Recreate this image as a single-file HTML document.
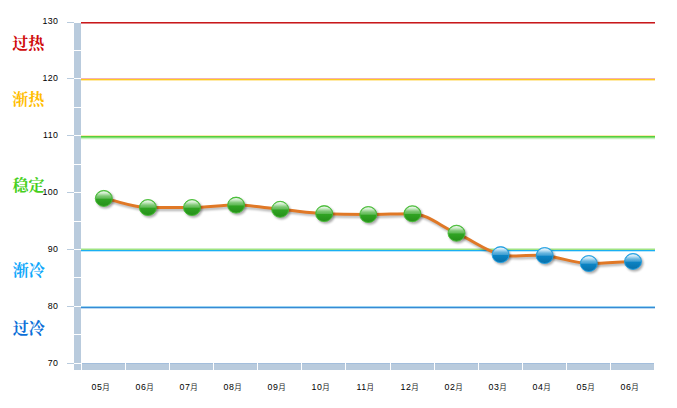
<!DOCTYPE html>
<html><head><meta charset="utf-8"><title>chart</title>
<style>html,body{margin:0;padding:0;background:#fff;overflow:hidden}body{width:677px;height:408px;position:relative;font-family:"Liberation Sans",sans-serif}</style></head>
<body>
<svg width="677" height="408" viewBox="0 0 677 408" style="display:block;position:absolute;left:0;top:0">
<defs>
<linearGradient id="gg" x1="0" y1="0" x2="0" y2="1">
 <stop offset="0" stop-color="#3db32d"/><stop offset="0.5" stop-color="#31a524"/><stop offset="1" stop-color="#258f19"/>
</linearGradient>
<linearGradient id="bg" x1="0" y1="0" x2="0" y2="1">
 <stop offset="0" stop-color="#1b9ade"/><stop offset="0.5" stop-color="#0c85c6"/><stop offset="1" stop-color="#0870a9"/>
</linearGradient>
<linearGradient id="gl" x1="0" y1="0" x2="0" y2="1">
 <stop offset="0" stop-color="#fff" stop-opacity="0.95"/><stop offset="0.3" stop-color="#fff" stop-opacity="0.72"/><stop offset="0.65" stop-color="#fff" stop-opacity="0.36"/><stop offset="1" stop-color="#fff" stop-opacity="0.2"/>
</linearGradient>
<filter id="sh" x="-30%" y="-30%" width="170%" height="170%">
 <feGaussianBlur stdDeviation="0.9"/>
</filter>
<filter id="shl" x="-5%" y="-30%" width="110%" height="180%">
 <feGaussianBlur stdDeviation="0.8"/>
</filter>
</defs>
<rect width="677" height="408" fill="#fff"/>
<rect x="81.0" y="22" width="574.0" height="1" fill="#c8181b" opacity="1.0"/>
<rect x="81.0" y="23" width="574.0" height="1" fill="#c8181b" opacity="0.55"/>
<rect x="81.0" y="78" width="574.0" height="1" fill="#f1b3b9" opacity="1.0"/>
<rect x="81.0" y="79" width="574.0" height="1" fill="#ffc81c" opacity="1.0"/>
<rect x="81.0" y="80" width="574.0" height="1" fill="#ffc81c" opacity="0.38"/>
<rect x="81.0" y="135" width="574.0" height="1" fill="#fde9b0" opacity="1.0"/>
<rect x="81.0" y="136" width="574.0" height="1" fill="#55d03c" opacity="1.0"/>
<rect x="81.0" y="137" width="574.0" height="1" fill="#55d03c" opacity="0.72"/>
<rect x="81.0" y="138" width="574.0" height="1" fill="#55d03c" opacity="0.33"/>
<rect x="81.0" y="139" width="574.0" height="1" fill="#55d03c" opacity="0.08"/>
<rect x="81.0" y="248" width="574.0" height="1" fill="#58cf3c" opacity="0.3"/>
<rect x="81.0" y="249" width="574.0" height="1" fill="#a0e380" opacity="1.0"/>
<rect x="81.0" y="250" width="574.0" height="1" fill="#1ab0f3" opacity="1.0"/>
<rect x="81.0" y="251" width="574.0" height="1" fill="#1ab0f3" opacity="0.3"/>
<rect x="81.0" y="306" width="574.0" height="1" fill="#98d3f1" opacity="1.0"/>
<rect x="81.0" y="307" width="574.0" height="1" fill="#368bd5" opacity="1.0"/>
<rect x="81.0" y="308" width="574.0" height="1" fill="#368bd5" opacity="0.33"/>
<rect x="74" y="23" width="7" height="347" fill="#B9CBDD"/>
<rect x="74" y="22" width="7" height="1" fill="#fff"/>
<rect x="67" y="22" width="7" height="1" fill="#B9CBDD"/>
<rect x="74" y="50" width="7" height="1" fill="#fff"/>
<rect x="74" y="78" width="7" height="1" fill="#fff"/>
<rect x="67" y="78" width="7" height="1" fill="#B9CBDD"/>
<rect x="74" y="107" width="7" height="1" fill="#fff"/>
<rect x="74" y="135" width="7" height="1" fill="#fff"/>
<rect x="67" y="135" width="7" height="1" fill="#B9CBDD"/>
<rect x="74" y="164" width="7" height="1" fill="#fff"/>
<rect x="74" y="192" width="7" height="1" fill="#fff"/>
<rect x="67" y="192" width="7" height="1" fill="#B9CBDD"/>
<rect x="74" y="221" width="7" height="1" fill="#fff"/>
<rect x="74" y="249" width="7" height="1" fill="#fff"/>
<rect x="67" y="249" width="7" height="1" fill="#B9CBDD"/>
<rect x="74" y="277" width="7" height="1" fill="#fff"/>
<rect x="74" y="306" width="7" height="1" fill="#fff"/>
<rect x="67" y="306" width="7" height="1" fill="#B9CBDD"/>
<rect x="74" y="334" width="7" height="1" fill="#fff"/>
<rect x="74" y="363" width="7" height="1" fill="#fff"/>
<rect x="67" y="363" width="7" height="1" fill="#B9CBDD"/>
<rect x="82" y="363" width="572" height="7" fill="#B9CBDD"/>
<rect x="82" y="363" width="572" height="1" fill="#A3BEDC"/>
<rect x="125" y="363" width="1" height="7" fill="#fff"/>
<rect x="169" y="363" width="1" height="7" fill="#fff"/>
<rect x="213" y="363" width="1" height="7" fill="#fff"/>
<rect x="257" y="363" width="1" height="7" fill="#fff"/>
<rect x="301" y="363" width="1" height="7" fill="#fff"/>
<rect x="345" y="363" width="1" height="7" fill="#fff"/>
<rect x="390" y="363" width="1" height="7" fill="#fff"/>
<rect x="434" y="363" width="1" height="7" fill="#fff"/>
<rect x="478" y="363" width="1" height="7" fill="#fff"/>
<rect x="522" y="363" width="1" height="7" fill="#fff"/>
<rect x="566" y="363" width="1" height="7" fill="#fff"/>
<rect x="610" y="363" width="1" height="7" fill="#fff"/>
<path d="M103.80,198.40C118.50,201.13 133.20,207.50 147.90,207.50C162.60,207.50 177.30,207.50 192.00,207.50C206.70,207.50 221.40,205.10 236.10,205.10C250.80,205.10 265.50,208.02 280.20,209.30C294.87,210.57 309.53,212.82 324.20,213.60C338.90,214.38 353.60,214.50 368.30,214.50C383.00,214.50 397.70,213.70 412.40,213.70C427.10,213.70 441.80,227.06 456.50,233.20C471.20,239.33 485.90,251.25 500.60,254.60C515.30,257.94 530.00,254.16 544.70,255.50C559.40,256.83 574.10,263.50 588.80,263.50C603.53,263.50 618.27,262.03 633.00,261.40" fill="none" stroke="#000" stroke-opacity="0.3" stroke-width="2.6" transform="translate(1.2,2.1)" filter="url(#shl)"/>
<path d="M103.80,198.40C118.50,201.13 133.20,207.50 147.90,207.50C162.60,207.50 177.30,207.50 192.00,207.50C206.70,207.50 221.40,205.10 236.10,205.10C250.80,205.10 265.50,208.02 280.20,209.30C294.87,210.57 309.53,212.82 324.20,213.60C338.90,214.38 353.60,214.50 368.30,214.50C383.00,214.50 397.70,213.70 412.40,213.70C427.10,213.70 441.80,227.06 456.50,233.20C471.20,239.33 485.90,251.25 500.60,254.60C515.30,257.94 530.00,254.16 544.70,255.50C559.40,256.83 574.10,263.50 588.80,263.50C603.53,263.50 618.27,262.03 633.00,261.40" fill="none" stroke="#e07826" stroke-width="3" stroke-linejoin="round"/>
<ellipse cx="105.30" cy="200.20" rx="8.9" ry="8.4" fill="#000" opacity="0.33" filter="url(#sh)"/>
<ellipse cx="149.40" cy="209.30" rx="8.9" ry="8.4" fill="#000" opacity="0.33" filter="url(#sh)"/>
<ellipse cx="193.50" cy="209.30" rx="8.9" ry="8.4" fill="#000" opacity="0.33" filter="url(#sh)"/>
<ellipse cx="237.60" cy="206.90" rx="8.9" ry="8.4" fill="#000" opacity="0.33" filter="url(#sh)"/>
<ellipse cx="281.70" cy="211.10" rx="8.9" ry="8.4" fill="#000" opacity="0.33" filter="url(#sh)"/>
<ellipse cx="325.70" cy="215.40" rx="8.9" ry="8.4" fill="#000" opacity="0.33" filter="url(#sh)"/>
<ellipse cx="369.80" cy="216.30" rx="8.9" ry="8.4" fill="#000" opacity="0.33" filter="url(#sh)"/>
<ellipse cx="413.90" cy="215.50" rx="8.9" ry="8.4" fill="#000" opacity="0.33" filter="url(#sh)"/>
<ellipse cx="458.00" cy="235.00" rx="8.9" ry="8.4" fill="#000" opacity="0.33" filter="url(#sh)"/>
<ellipse cx="502.10" cy="256.40" rx="8.9" ry="8.4" fill="#000" opacity="0.33" filter="url(#sh)"/>
<ellipse cx="546.20" cy="257.30" rx="8.9" ry="8.4" fill="#000" opacity="0.33" filter="url(#sh)"/>
<ellipse cx="590.30" cy="265.30" rx="8.9" ry="8.4" fill="#000" opacity="0.33" filter="url(#sh)"/>
<ellipse cx="634.50" cy="263.20" rx="8.9" ry="8.4" fill="#000" opacity="0.33" filter="url(#sh)"/>
<ellipse cx="103.80" cy="198.40" rx="8.5" ry="8.0" fill="url(#gg)" stroke="#47c035" stroke-width="0.9"/>
<path d="M95.80,198.70 A8.0,7.5 0 0 1 111.80,198.70 Z" fill="url(#gl)"/>
<ellipse cx="147.90" cy="207.50" rx="8.5" ry="8.0" fill="url(#gg)" stroke="#47c035" stroke-width="0.9"/>
<path d="M139.90,207.80 A8.0,7.5 0 0 1 155.90,207.80 Z" fill="url(#gl)"/>
<ellipse cx="192.00" cy="207.50" rx="8.5" ry="8.0" fill="url(#gg)" stroke="#47c035" stroke-width="0.9"/>
<path d="M184.00,207.80 A8.0,7.5 0 0 1 200.00,207.80 Z" fill="url(#gl)"/>
<ellipse cx="236.10" cy="205.10" rx="8.5" ry="8.0" fill="url(#gg)" stroke="#47c035" stroke-width="0.9"/>
<path d="M228.10,205.40 A8.0,7.5 0 0 1 244.10,205.40 Z" fill="url(#gl)"/>
<ellipse cx="280.20" cy="209.30" rx="8.5" ry="8.0" fill="url(#gg)" stroke="#47c035" stroke-width="0.9"/>
<path d="M272.20,209.60 A8.0,7.5 0 0 1 288.20,209.60 Z" fill="url(#gl)"/>
<ellipse cx="324.20" cy="213.60" rx="8.5" ry="8.0" fill="url(#gg)" stroke="#47c035" stroke-width="0.9"/>
<path d="M316.20,213.90 A8.0,7.5 0 0 1 332.20,213.90 Z" fill="url(#gl)"/>
<ellipse cx="368.30" cy="214.50" rx="8.5" ry="8.0" fill="url(#gg)" stroke="#47c035" stroke-width="0.9"/>
<path d="M360.30,214.80 A8.0,7.5 0 0 1 376.30,214.80 Z" fill="url(#gl)"/>
<ellipse cx="412.40" cy="213.70" rx="8.5" ry="8.0" fill="url(#gg)" stroke="#47c035" stroke-width="0.9"/>
<path d="M404.40,214.00 A8.0,7.5 0 0 1 420.40,214.00 Z" fill="url(#gl)"/>
<ellipse cx="456.50" cy="233.20" rx="8.5" ry="8.0" fill="url(#gg)" stroke="#47c035" stroke-width="0.9"/>
<path d="M448.50,233.50 A8.0,7.5 0 0 1 464.50,233.50 Z" fill="url(#gl)"/>
<ellipse cx="500.60" cy="254.60" rx="8.5" ry="8.0" fill="url(#bg)" stroke="#22a3e6" stroke-width="0.9"/>
<path d="M492.60,254.90 A8.0,7.5 0 0 1 508.60,254.90 Z" fill="url(#gl)"/>
<ellipse cx="544.70" cy="255.50" rx="8.5" ry="8.0" fill="url(#bg)" stroke="#22a3e6" stroke-width="0.9"/>
<path d="M536.70,255.80 A8.0,7.5 0 0 1 552.70,255.80 Z" fill="url(#gl)"/>
<ellipse cx="588.80" cy="263.50" rx="8.5" ry="8.0" fill="url(#bg)" stroke="#22a3e6" stroke-width="0.9"/>
<path d="M580.80,263.80 A8.0,7.5 0 0 1 596.80,263.80 Z" fill="url(#gl)"/>
<ellipse cx="633.00" cy="261.40" rx="8.5" ry="8.0" fill="url(#bg)" stroke="#22a3e6" stroke-width="0.9"/>
<path d="M625.00,261.70 A8.0,7.5 0 0 1 641.00,261.70 Z" fill="url(#gl)"/>
<text x="58.3" y="23.9" text-anchor="end" font-family="Liberation Sans, sans-serif" font-size="8.8" letter-spacing="0.4" fill="#000">130</text>
<text x="58.3" y="80.9" text-anchor="end" font-family="Liberation Sans, sans-serif" font-size="8.8" letter-spacing="0.4" fill="#000">120</text>
<text x="58.3" y="137.9" text-anchor="end" font-family="Liberation Sans, sans-serif" font-size="8.8" letter-spacing="0.4" fill="#000">110</text>
<text x="58.3" y="194.9" text-anchor="end" font-family="Liberation Sans, sans-serif" font-size="8.8" letter-spacing="0.4" fill="#000">100</text>
<text x="58.3" y="251.9" text-anchor="end" font-family="Liberation Sans, sans-serif" font-size="8.8" letter-spacing="0.4" fill="#000">90</text>
<text x="58.3" y="308.9" text-anchor="end" font-family="Liberation Sans, sans-serif" font-size="8.8" letter-spacing="0.4" fill="#000">80</text>
<text x="58.3" y="365.9" text-anchor="end" font-family="Liberation Sans, sans-serif" font-size="8.8" letter-spacing="0.4" fill="#000">70</text>
<text x="91.6" y="390.3" font-family="'Liberation Sans', 'Noto Sans CJK SC', sans-serif" font-size="8.8" letter-spacing="0.4" fill="#000">05<tspan font-size="7.5" fill="#1c1c1c">月</tspan></text>
<text x="135.6" y="390.3" font-family="'Liberation Sans', 'Noto Sans CJK SC', sans-serif" font-size="8.8" letter-spacing="0.4" fill="#000">06<tspan font-size="7.5" fill="#1c1c1c">月</tspan></text>
<text x="179.6" y="390.3" font-family="'Liberation Sans', 'Noto Sans CJK SC', sans-serif" font-size="8.8" letter-spacing="0.4" fill="#000">07<tspan font-size="7.5" fill="#1c1c1c">月</tspan></text>
<text x="223.6" y="390.3" font-family="'Liberation Sans', 'Noto Sans CJK SC', sans-serif" font-size="8.8" letter-spacing="0.4" fill="#000">08<tspan font-size="7.5" fill="#1c1c1c">月</tspan></text>
<text x="267.6" y="390.3" font-family="'Liberation Sans', 'Noto Sans CJK SC', sans-serif" font-size="8.8" letter-spacing="0.4" fill="#000">09<tspan font-size="7.5" fill="#1c1c1c">月</tspan></text>
<text x="311.6" y="390.3" font-family="'Liberation Sans', 'Noto Sans CJK SC', sans-serif" font-size="8.8" letter-spacing="0.4" fill="#000">10<tspan font-size="7.5" fill="#1c1c1c">月</tspan></text>
<text x="356.6" y="390.3" font-family="'Liberation Sans', 'Noto Sans CJK SC', sans-serif" font-size="8.8" letter-spacing="0.4" fill="#000">11<tspan font-size="7.5" fill="#1c1c1c">月</tspan></text>
<text x="400.6" y="390.3" font-family="'Liberation Sans', 'Noto Sans CJK SC', sans-serif" font-size="8.8" letter-spacing="0.4" fill="#000">12<tspan font-size="7.5" fill="#1c1c1c">月</tspan></text>
<text x="444.6" y="390.3" font-family="'Liberation Sans', 'Noto Sans CJK SC', sans-serif" font-size="8.8" letter-spacing="0.4" fill="#000">02<tspan font-size="7.5" fill="#1c1c1c">月</tspan></text>
<text x="488.6" y="390.3" font-family="'Liberation Sans', 'Noto Sans CJK SC', sans-serif" font-size="8.8" letter-spacing="0.4" fill="#000">03<tspan font-size="7.5" fill="#1c1c1c">月</tspan></text>
<text x="532.6" y="390.3" font-family="'Liberation Sans', 'Noto Sans CJK SC', sans-serif" font-size="8.8" letter-spacing="0.4" fill="#000">04<tspan font-size="7.5" fill="#1c1c1c">月</tspan></text>
<text x="576.6" y="390.3" font-family="'Liberation Sans', 'Noto Sans CJK SC', sans-serif" font-size="8.8" letter-spacing="0.4" fill="#000">05<tspan font-size="7.5" fill="#1c1c1c">月</tspan></text>
<text x="620.6" y="390.3" font-family="'Liberation Sans', 'Noto Sans CJK SC', sans-serif" font-size="8.8" letter-spacing="0.4" fill="#000">06<tspan font-size="7.5" fill="#1c1c1c">月</tspan></text>
<text x="12.2" y="48.5" font-family="'Liberation Serif', 'Noto Serif CJK SC', serif" font-size="16" font-weight="bold" fill="#cf0a0a">过热</text>
<text x="12.2" y="105.4" font-family="'Liberation Serif', 'Noto Serif CJK SC', serif" font-size="16" font-weight="bold" fill="#ffbd00">渐热</text>
<text x="12.4" y="190.9" font-family="'Liberation Serif', 'Noto Serif CJK SC', serif" font-size="16" font-weight="bold" fill="#46cf1c">稳定</text>
<text x="12.7" y="275.9" font-family="'Liberation Serif', 'Noto Serif CJK SC', serif" font-size="16" font-weight="bold" fill="#10a8fb">渐冷</text>
<text x="12.7" y="333.6" font-family="'Liberation Serif', 'Noto Serif CJK SC', serif" font-size="16" font-weight="bold" fill="#0c6fd8">过冷</text>
</svg>
</body></html>
